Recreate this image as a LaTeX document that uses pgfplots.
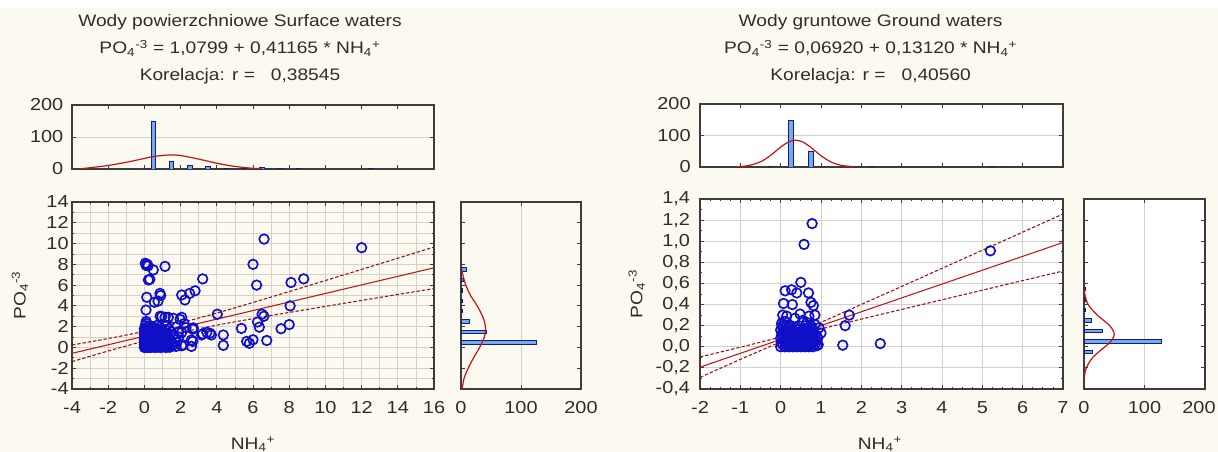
\documentclass[border=0pt]{standalone}
\usepackage{fontspec}
\setmainfont[FakeStretch=1.15]{Liberation Sans}
\usepackage{pgfplots}
\pgfplotsset{compat=1.18}
\definecolor{cream}{RGB}{252,250,240}
\definecolor{axgray}{RGB}{60,60,60}
\definecolor{txtgray}{RGB}{45,45,45}
\definecolor{gridc}{RGB}{212,208,198}
\definecolor{gridw}{RGB}{208,208,208}
\definecolor{ptblue}{RGB}{15,15,200}
\definecolor{regred}{RGB}{200,20,20}
\definecolor{bandred}{RGB}{165,10,10}
\definecolor{barfill}{RGB}{115,170,240}
\definecolor{baredge}{RGB}{20,30,110}
\definecolor{curvered}{RGB}{195,20,20}
\newcommand{\fs}{\fontsize{12.5}{14}\selectfont}
\newcommand{\ft}{\fontsize{13}{15}\selectfont}
\pgfplotsset{
  base/.style={scale only axis, anchor=south west,
    axis line style={draw=axgray, line width=0.8pt},
    tick style={draw=axgray, line width=0.6pt}, tick align=inside,
    major tick length=3pt, minor tick length=1.8pt,
    ticklabel style={font=\ft, text=txtgray},
    /pgf/number format/assume math mode=true,
    /pgf/number format/use comma,
    grid style={draw=gridc, line width=0.6pt},
    minor grid style={draw=gridc, line width=0.6pt}},
  scat/.style={only marks, mark=o, mark size=3.6pt, mark options={draw=ptblue, line width=1.25pt}},
  reg/.style={regred, line width=0.8pt},
  band/.style={bandred, line width=0.8pt, dash pattern=on 2.5pt off 1.5pt, smooth},
  hbar/.style={ybar, bar width=3.5pt, bar shift=0pt, fill=barfill, draw=baredge, line width=0.6pt},
  vbar/.style={xbar, bar width=2.5pt, bar shift=0pt, fill=barfill, draw=baredge, line width=0.6pt},
  curve/.style={curvered, line width=0.9pt, smooth},
}
\begin{document}
\begin{tikzpicture}
\path[use as bounding box] (0,0) rectangle (913.5pt,339pt);
\fill[cream] (0,0) rectangle (913.5pt,333pt);

% ---------------- Titles ----------------
\begin{scope}[every node/.style={font=\fs, text=txtgray, anchor=base}]
\node at (180pt,318.75pt) {Wody powierzchniowe Surface waters};
\node at (180pt,298.5pt) {PO\textsubscript{4}\textsuperscript{-3} = 1,0799 + 0,41165 * NH\textsubscript{4}\textsuperscript{+}};
\node at (180pt,278.25pt) {Korelacja: r = \ \ 0,38545};
\node at (653pt,318.75pt) {Wody gruntowe Ground waters};
\node at (653pt,298.5pt) {PO\textsubscript{4}\textsuperscript{-3} = 0,06920 + 0,13120 * NH\textsubscript{4}\textsuperscript{+}};
\node at (653pt,278.25pt) {Korelacja: r = \ \ 0,40560};
\node at (189.75pt,2pt) {NH\textsubscript{4}\textsuperscript{+}};
\node at (660pt,2pt) {NH\textsubscript{4}\textsuperscript{+}};
\end{scope}
\node[font=\fs, text=txtgray, rotate=90] at (15pt,117.4pt) {PO\textsubscript{4}\textsuperscript{-3}};
\node[font=\fs, text=txtgray, rotate=90] at (477.5pt,118.5pt) {PO\textsubscript{4}\textsuperscript{-3}};

% ---------------- Left main scatter ----------------
\begin{axis}[base, at={(54pt,47.25pt)}, width=271.5pt, height=140.25pt,
  xmin=-4, xmax=16, ymin=-4, ymax=14,
  xtick={-4,-2,...,16}, ytick={-4,-2,...,14},
  minor xtick={-3,-1,...,15}, minor ytick={-3,-1,...,13},
  grid=both, xticklabel style={yshift=-6pt}, yticklabel style={xshift=1pt}]
\addplot[scat] coordinates {
(0,0)(0.08,0.05)(0.15,0)(0.25,0.02)(0.35,0)(0.45,0.04)(0.6,0)(0.75,0.03)(0.9,0)(1.05,0.05)(1.2,0)(1.4,0.02)
(0.05,0.12)(0.18,0.1)(0.3,0.12)(0.42,0.1)(0.55,0.12)(0.68,0.1)(0.82,0.12)(0.97,0.1)(1.12,0.12)(1.3,0.1)
(0,0.25)(0.1,0.22)(0.2,0.28)(0.3,0.2)(0.5,0.25)(0.7,0.2)(0.85,0.27)(1.1,0.22)(1.3,0.25)(1.55,0.2)
(0.05,0.36)(0.18,0.35)(0.35,0.37)(0.6,0.35)(0.8,0.36)(1.0,0.35)(1.25,0.37)
(0,0.48)(0.12,0.5)(0.25,0.45)(0.4,0.52)(0.55,0.47)(0.75,0.5)(0.95,0.45)(1.2,0.5)(1.5,0.46)
(0.05,0.6)(0.2,0.62)(0.38,0.6)(0.55,0.6)(0.8,0.62)(1.05,0.6)(1.3,0.6)
(0,0.72)(0.1,0.7)(0.3,0.75)(0.45,0.7)(0.65,0.74)(0.9,0.7)(1.15,0.73)(1.45,0.7)
(0.05,0.85)(0.22,0.86)(0.4,0.84)(0.6,0.86)(0.8,0.85)(1.1,0.86)
(0,0.98)(0.15,0.95)(0.3,1.0)(0.5,0.95)(0.7,0.98)(1.0,0.95)(1.3,1.0)(1.7,0.95)
(0.05,1.1)(0.2,1.1)(0.38,1.08)(0.55,1.1)(0.78,1.1)(1.1,1.08)
(0,1.22)(0.1,1.2)(0.25,1.25)(0.45,1.2)(0.65,1.24)(0.9,1.2)(1.25,1.22)(1.6,1.2)
(0.05,1.36)(0.3,1.36)(0.52,1.35)(0.75,1.37)(1.0,1.35)
(0,1.5)(0.2,1.52)(0.4,1.48)(0.6,1.5)(0.85,1.53)(1.1,1.48)(1.5,1.5)(1.9,1.52)
(0.1,1.65)(0.3,1.66)(0.5,1.64)(0.75,1.66)(1.2,1.65)
(0,1.8)(0.15,1.78)(0.35,1.82)(0.6,1.8)(0.95,1.78)(1.35,1.82)
(0.05,2.1)(0.3,2.08)(0.7,2.12)(1.2,2.1)(0.15,1.95)(0.5,1.95)(0.85,1.95)
(0.1,2.5)(0.1,2.3)(0.96,2.97)(1.32,2.9)(1.6,2.8)(1.97,2.7)(0.87,3.0)(1.14,2.9)(2.06,2.9)(2.2,2.3)
(2.7,1.88)(2.67,1.76)(3.16,1.2)(3.22,1.3)(3.45,1.45)(3.62,1.37)(3.7,1.2)(4.36,1.2)(4.36,0.2)
(2.6,0.72)(2.6,0.1)(2.67,0.58)(2.15,0.24)(2.06,0.16)(2.06,1.44)(1.8,0.5)(1.9,1.0)(1.75,0.1)(2.3,1.9)
(4.03,3.2)(0.09,3.6)(0.13,4.83)(0.75,4.45)(0.55,4.35)(0.86,5.2)(0.9,5.0)(2.06,5.05)(2.24,4.57)(2.5,5.2)(2.8,5.45)
(0.22,6.5)(0.3,6.55)(0.1,7.9)(0.05,8.1)(0.15,8.0)(0.2,7.85)(0.49,7.46)(1.14,7.8)(3.22,6.6)
(6.0,8.0)(6.2,6.0)(6.61,10.43)(12.0,9.6)(8.1,6.25)(8.8,6.6)(8.05,4.0)(6.5,3.2)(6.6,3.0)(6.25,2.45)(6.35,1.95)
(8.0,2.2)(7.55,1.8)(5.36,1.83)(5.65,0.58)(5.8,0.4)(6.0,0.74)(6.76,0.67)
};
\addplot[band] coordinates {(-4,0.233)(-2,0.856)(0,1.543)(1.1,1.973)(2,2.359)(4,3.308)(6,4.328)(8,5.378)(10,6.442)(12,7.513)(14,8.588)(16,9.666)};
\addplot[band] coordinates {(-4,-1.367)(-2,-0.342)(0,0.617)(1.1,1.093)(2,1.447)(4,2.146)(6,2.772)(8,3.368)(10,3.950)(12,4.527)(14,5.098)(16,5.666)};
\addplot[reg] coordinates {(-4,-0.567)(16,7.666)};
\end{axis}

% ---------------- Left top histogram ----------------
\begin{axis}[base, at={(54pt,212.25pt)}, width=271.5pt, height=48pt,
  xmin=-4, xmax=16, ymin=0, ymax=200,
  xtick={-4,-2,...,16}, xticklabels={}, ytick={0,100,200}, ymajorgrids,
  yticklabel style={xshift=-3pt}]
\addplot[hbar] coordinates {(0.5,150)(1.5,25)(2.5,10)(3.5,7)(4.5,2)(5.5,3)(6.5,6)(7.5,3)(8.5,2)(12.5,1)};
\addplot[curve] coordinates {(-3.5,1)(-3,4)(-2,11)(-1,21)(0,33)(0.5,39)(1.4,44)(2,42)(3,31)(4,18)(5,8)(6,2)(6.5,1)};
\end{axis}

% ---------------- Left side histogram ----------------
\begin{axis}[base, at={(345.75pt,47.25pt)}, width=90pt, height=140.25pt,
  xmin=0, xmax=200, ymin=-4, ymax=14,
  xtick={0,100,200}, ytick={-4,-2,...,14}, yticklabels={}, xmajorgrids,
  xticklabel style={yshift=-6pt}]
\addplot[vbar] coordinates {(126,0.5)(43,1.5)(14,2.5)(3,3.5)(3,4.5)(3,5.5)(4,6.5)(9,7.5)};
\addplot[curve] coordinates {(2,-4)(5,-3)(12,-2)(21,-1)(31,0)(39,1)(41,1.8)(39,2.5)(36,3)(27,4)(16,5)(8,6)(3,7)(1,7.6)};
\end{axis}

% ---------------- Right main scatter ----------------
\begin{axis}[base, at={(525pt,47.25pt)}, width=272.25pt, height=142.5pt,
  xmin=-2, xmax=7, ymin=-0.4, ymax=1.4,
  xtick={-2,-1,0,1,2,3,4,5,6,7}, ytick={-0.4,-0.2,0,0.2,0.4,0.6,0.8,1.0,1.2,1.4},
  minor x tick num=3, minor y tick num=1,
  xmajorgrids, ymajorgrids, grid style={draw=gridw, line width=0.6pt},
  axis background/.style={fill=white},
  xticklabel style={yshift=-6pt},
  yticklabel style={xshift=-4pt, /pgf/number format/.cd, fixed, fixed zerofill, precision=1, use comma}]
\addplot[scat] coordinates {
(0,0)(0.1,0)(0.2,0)(0.3,0)(0.4,0)(0.5,0)(0.6,0)(0.7,0)(0.8,0)(0.9,0.01)
(0.05,0.02)(0.15,0.02)(0.25,0.02)(0.35,0.02)(0.45,0.02)(0.55,0.02)(0.65,0.02)(0.75,0.02)(0.85,0.02)
(0.02,0.04)(0.12,0.04)(0.22,0.04)(0.32,0.04)(0.42,0.04)(0.52,0.04)(0.62,0.04)(0.72,0.04)(0.82,0.04)
(0.07,0.06)(0.17,0.06)(0.27,0.06)(0.37,0.06)(0.47,0.06)(0.57,0.06)(0.67,0.06)(0.77,0.06)(0.87,0.06)
(0,0.08)(0.1,0.08)(0.2,0.08)(0.3,0.08)(0.4,0.08)(0.5,0.08)(0.6,0.08)(0.7,0.08)(0.8,0.08)
(0.05,0.1)(0.15,0.1)(0.25,0.1)(0.35,0.1)(0.5,0.1)(0.6,0.1)(0.7,0.1)(0.8,0.1)(0.9,0.1)
(0.03,0.12)(0.13,0.12)(0.23,0.12)(0.33,0.12)(0.45,0.12)(0.55,0.12)(0.65,0.12)(0.75,0.12)(0.85,0.12)
(0.07,0.14)(0.18,0.14)(0.28,0.14)(0.38,0.14)(0.5,0.14)(0.7,0.14)(0.8,0.14)
(0,0.16)(0.1,0.16)(0.2,0.16)(0.3,0.16)(0.42,0.16)(0.6,0.16)(0.7,0.16)(0.8,0.16)
(0.05,0.18)(0.2,0.18)(0.35,0.18)(0.65,0.18)(0.75,0.18)
(0.05,0.2)(0.15,0.2)(0.25,0.2)(0.45,0.2)(0.62,0.2)(0.75,0.2)(0.85,0.21)
(0.78,1.167)(0.58,0.97)(5.2,0.909)(0.5,0.61)(0.11,0.53)(0.27,0.54)(0.4,0.51)(0.69,0.51)
(0.75,0.42)(0.81,0.39)(0.07,0.41)(0.29,0.40)(0.48,0.31)(0.05,0.30)(0.15,0.29)(0.7,0.29)(0.85,0.30)
(1.7,0.30)(1.6,0.2)(1.54,0.015)(2.47,0.03)(0.93,0.02)(1.0,0.13)(0.02,0.22)(0.1,0.24)(0.55,0.25)
(0.65,0.23)(0.35,0.27)(0.92,0.08)(0.95,0.18)
};
\addplot[band] coordinates {(-2,-0.0963)(-1,-0.0043)(0,0.0925)(0.35,0.1335)(1,0.2325)(2,0.4009)(3,0.5717)(4,0.743)(5,0.9144)(6,1.0859)(7,1.2576)};
\addplot[band] coordinates {(-2,-0.2901)(-1,-0.1197)(0,0.0459)(0.35,0.0967)(1,0.1683)(2,0.2623)(3,0.3539)(4,0.445)(5,0.536)(6,0.6269)(7,0.7176)};
\addplot[reg] coordinates {(-2,-0.1932)(7,0.9876)};
\end{axis}

% ---------------- Right top histogram ----------------
\begin{axis}[base, at={(525pt,213.75pt)}, width=272.25pt, height=47.25pt,
  xmin=-2, xmax=7, ymin=0, ymax=200,
  xtick={-2,-1,0,1,2,3,4,5,6,7}, xticklabels={}, ytick={0,100,200}, ymajorgrids,
  grid style={draw=gridw, line width=0.6pt},
  axis background/.style={fill=white}, yticklabel style={xshift=-3.5pt}]
\addplot[hbar] coordinates {(-0.25,1)(0.25,148)(0.75,50)(2.25,1)(5.25,1)};
\addplot[curve] coordinates {(-1.1,0.8)(-0.8,4.4)(-0.5,16.4)(-0.25,36.9)(0,63.2)(0.2,79.8)(0.37,85)(0.55,79.2)(0.75,62.1)(1.0,35.9)(1.25,15.8)(1.5,5.3)(1.8,1.0)};
\end{axis}

% ---------------- Right side histogram ----------------
\begin{axis}[base, at={(813pt,47.25pt)}, width=90.75pt, height=142.5pt,
  xmin=0, xmax=200, ymin=-0.4, ymax=1.4,
  xtick={0,100,200}, xticklabels={0,100,\hspace*{-9pt}200}, ytick={-0.4,-0.2,0,0.2,0.4,0.6,0.8,1.0,1.2,1.4}, yticklabels={},
  xmajorgrids, grid style={draw=gridw, line width=0.6pt},
  axis background/.style={fill=white}, xticklabel style={yshift=-6pt}]
\addplot[vbar] coordinates {(14,-0.05)(128,0.05)(30,0.15)(12,0.25)(2,0.35)(2,0.45)(2,0.55)};
\addplot[curve] coordinates {(0.6,-0.3)(1.5,-0.25)(3.7,-0.2)(14.5,-0.1)(34.6,0)(44.1,0.05)(50,0.12)(42.5,0.2)(21.9,0.3)(6.8,0.4)(1.3,0.5)(0.5,0.55)};
\end{axis}
\end{tikzpicture}
\end{document}
